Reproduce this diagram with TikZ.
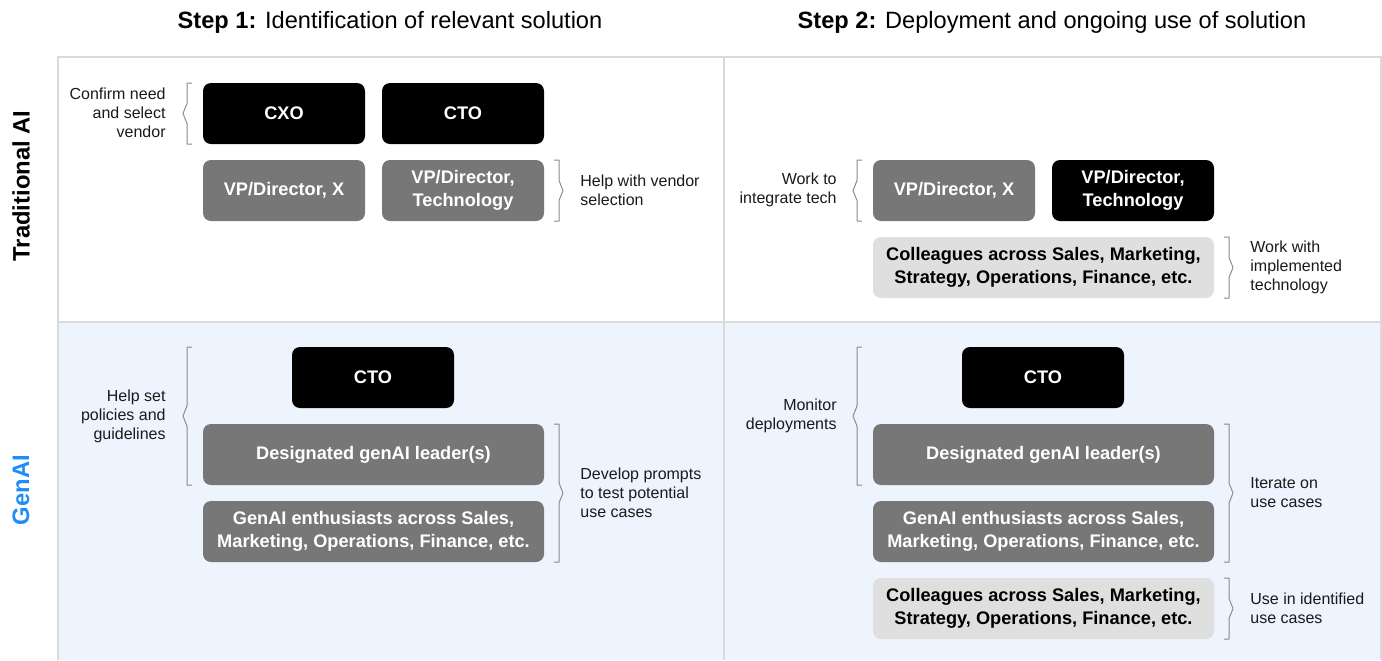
\documentclass[tikz,border=0pt]{standalone}
\usepackage{fontspec}
\setmainfont{Liberation Sans}
\definecolor{boxgray}{HTML}{777777}
\definecolor{boxlight}{HTML}{DFDFDF}
\definecolor{gridline}{HTML}{DADADA}
\definecolor{bluebg}{HTML}{EDF4FE}
\definecolor{genblue}{HTML}{1E8CFA}
\definecolor{brkgray}{HTML}{8A8A8A}
\definecolor{labeltext}{HTML}{1A1A1A}
\tikzset{
  role/.style={rounded corners=4pt, minimum height=30.5pt, align=center,
    font=\fontsize{9.1}{11.6}\selectfont\bfseries, inner sep=0pt},
  narrow/.style={role, minimum width=81pt},
  wide/.style={role, minimum width=170.5pt},
  dark/.style={fill=black, text=white},
  mid/.style={fill=boxgray, text=white},
  light/.style={fill=boxlight, text=black},
  lbl/.style={font=\fontsize{8}{9.5}\selectfont, text=labeltext, inner sep=0pt},
  lblL/.style={lbl, anchor=east, align=right},
  lblR/.style={lbl, anchor=west, align=left},
  brk/.style={draw=brkgray, line width=0.5pt, line join=round},
  title/.style={font=\fontsize{11.8}{14}\selectfont, inner sep=0pt},
  rowlbl/.style={font=\fontsize{11.9}{14}\selectfont\bfseries, rotate=90, inner sep=0pt},
  grid/.style={draw=gridline, line width=0.6pt}
}
\newcommand\lbrk[3]{% x, ytop, ybot : bracket opening to the right, point to the left
  \draw[brk] (#1+5,#2) -- (#1,#2) -- (#1,{(#2+#3)/2-10}) -- (#1-4,{(#2+#3)/2}) -- (#1,{(#2+#3)/2+10}) -- (#1,#3) -- (#1+5,#3);}
\newcommand\rbrk[3]{% x, ytop, ybot : bracket opening to the left, point to the right
  \draw[brk] (#1-5,#2) -- (#1,#2) -- (#1,{(#2+#3)/2-10}) -- (#1+4,{(#2+#3)/2}) -- (#1,{(#2+#3)/2+10}) -- (#1,#3) -- (#1-5,#3);}
\begin{document}
\begin{tikzpicture}[x=0.5pt,y=-0.5pt]
\useasboundingbox (0,0) rectangle (1382,660);
% background and grid
\fill[bluebg] (58,322) rectangle (1382,660);
\draw[grid] (58,660) -- (58,57) -- (1381,57) -- (1381,660);
\draw[grid] (58,322) -- (1381,322);
\draw[grid] (724,57) -- (724,660);
% titles
\node[title] (t1) at (390,22) {\textbf{Step 1:} Identification of relevant solution};
\node[title] (t2) at (1052,22) {\textbf{Step 2:} Deployment and ongoing use of solution};
\node[rowlbl] (r1) at (21,186) {Traditional AI};
\node[rowlbl, text=genblue] (r2) at (21,490) {GenAI};
% ---- Traditional AI, step 1
\node[narrow,dark] (cxo) at (284,113.5) {CXO};
\node[narrow,dark] (cto1) at (463,113.5) {CTO};
\node[narrow,mid] (vpx1) at (284,190.5) {VP/Director, X};
\node[narrow,mid] (vpt1) at (463,190.5) {VP/Director,\\Technology};
\lbrk{187}{83}{144}
\node[lblL] (l1) at (166,113) {Confirm need\\and select\\vendor};
\rbrk{559}{160}{221}
\node[lblR] (l2) at (580,190) {Help with vendor\\selection};
% ---- Traditional AI, step 2
\node[narrow,mid] (vpx2) at (954,190.5) {VP/Director, X};
\node[narrow,dark] (vpt2) at (1133,190.5) {VP/Director,\\Technology};
\node[wide,light] (col1) at (1043.5,267.5) {Colleagues across Sales, Marketing,\\Strategy, Operations, Finance, etc.};
\lbrk{857}{160}{221}
\node[lblL] (l3) at (837,190) {Work to\\integrate tech};
\rbrk{1229}{237}{298}
\node[lblR] (l4) at (1250,267) {Work with\\implemented\\technology};
% ---- GenAI, step 1
\node[narrow,dark] (cto3) at (373,377.5) {CTO};
\node[wide,mid] (des1) at (373.5,454.5) {Designated genAI leader(s)};
\node[wide,mid] (enth1) at (373.5,531.5) {GenAI enthusiasts across Sales,\\Marketing, Operations, Finance, etc.};
\lbrk{187}{347}{485}
\node[lblL] (l5) at (166,416) {Help set\\policies and\\guidelines};
\rbrk{559}{424}{562}
\node[lblR] (l6) at (580,493) {Develop prompts\\to test potential\\use cases};
% ---- GenAI, step 2
\node[narrow,dark] (cto4) at (1043,377.5) {CTO};
\node[wide,mid] (des2) at (1043.5,454.5) {Designated genAI leader(s)};
\node[wide,mid] (enth2) at (1043.5,531.5) {GenAI enthusiasts across Sales,\\Marketing, Operations, Finance, etc.};
\node[wide,light] (col2) at (1043.5,608.5) {Colleagues across Sales, Marketing,\\Strategy, Operations, Finance, etc.};
\lbrk{857}{347}{485}
\node[lblL] (l7) at (837,416) {Monitor\\deployments};
\rbrk{1229}{424}{562}
\node[lblR] (l8) at (1250,493) {Iterate on\\use cases};
\rbrk{1229}{578}{639}
\node[lblR] (l9) at (1250,608) {Use in identified\\use cases};
\end{tikzpicture}
\end{document}
